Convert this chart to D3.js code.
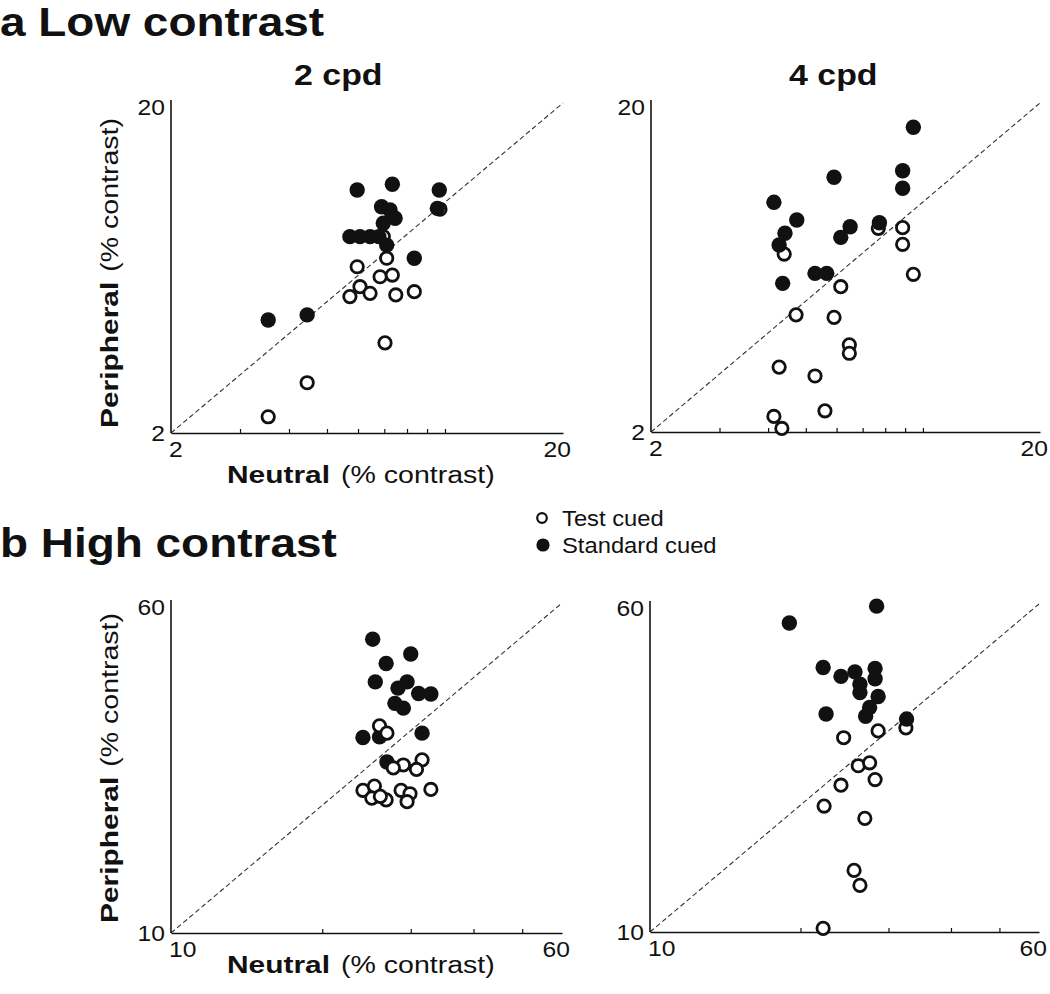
<!DOCTYPE html>
<html>
<head>
<meta charset="utf-8">
<script src="https://cdn.jsdelivr.net/npm/d3@7"></script>
<style>
body { margin: 0; background: #fff; }
svg { display: block; font-family: "Liberation Sans", Arial, sans-serif; }
</style>
</head>
<body>
<div class="container"></div>
<script>
const width = 1050;
const height = 994;

// axis domains and minor tick values
const lowDomain = [2, 20];
const highDomain = [10, 60];
const lowMinorTicks = [3, 4, 5, 6, 7, 8, 9, 10];
const highMinorTicks = [20, 30, 40, 50];

// [neutral, peripheral] thresholds, % contrast
const low2Test = [[7.10, 6.77], [5.97, 6.38], [6.83, 5.95], [7.34, 6.02], [6.07, 5.55], [5.72, 5.18], [6.44, 5.30],
    [7.49, 5.24], [8.35, 5.36], [7.03, 3.75], [4.45, 2.84], [3.54, 2.24], [9.71, 9.53], [6.96, 7.87]];
const low2Std = [[5.97, 10.9], [7.34, 11.34], [9.67, 10.9], [9.56, 9.59], [6.89, 9.70], [7.24, 9.48], [7.46, 8.95],
    [6.96, 8.64], [5.72, 7.87], [6.07, 7.87], [6.44, 7.87], [6.78, 7.87], [7.10, 7.42], [8.35, 6.77], [3.54, 4.40], [4.45, 4.56]];

const low4Test = [[8.87, 8.36], [8.87, 7.44], [9.45, 6.03], [7.68, 8.32], [4.40, 6.95], [6.15, 5.53], [4.72, 4.54],
    [5.91, 4.46], [6.47, 3.68], [6.47, 3.47], [4.27, 3.15], [5.28, 2.96], [5.60, 2.32], [4.14, 2.23], [4.34, 2.05]];
const low4Std = [[9.45, 16.87], [8.87, 12.45], [8.87, 11.01], [5.91, 11.89], [4.14, 9.98], [4.74, 8.82], [4.42, 8.04],
    [4.27, 7.40], [6.50, 8.41], [6.15, 7.81], [7.73, 8.65], [5.28, 6.07], [5.66, 6.07], [4.36, 5.66]];

const high2Test = [[26.0, 30.8], [26.9, 29.6], [31.6, 25.6], [29.0, 24.9], [27.7, 24.5], [30.8, 24.3], [24.1, 21.7],
    [25.4, 22.2], [32.9, 21.8], [28.7, 21.7], [29.9, 21.3], [25.1, 20.8], [26.8, 20.6], [29.5, 20.4], [26.1, 21.0]];
const high2Std = [[25.2, 49.3], [26.8, 43.2], [30.0, 45.5], [25.5, 39.1], [29.5, 39.1], [28.3, 37.8], [31.1, 36.7],
    [32.9, 36.6], [27.9, 34.8], [29.0, 33.9], [24.1, 28.9], [26.0, 29.0], [31.6, 29.6], [26.9, 25.3]];

const high4Test = [[32.5, 30.5], [28.6, 30.0], [24.4, 28.9], [26.1, 24.8], [27.5, 25.2], [28.2, 23.0], [24.1, 22.3],
    [22.3, 19.9], [26.9, 18.6], [25.6, 14.0], [26.3, 12.9], [22.2, 10.2]];
const high4Std = [[28.4, 59.3], [19.0, 54.1], [22.2, 42.4], [24.1, 40.4], [25.7, 41.4], [28.2, 42.2], [28.2, 39.9],
    [26.3, 38.7], [26.3, 37.0], [28.6, 36.2], [27.5, 34.1], [27.0, 32.5], [22.5, 32.9], [32.6, 32.0]];

const legendLabels = ['Test cued', 'Standard cued'];

const panels = [
    { test: low2Test, std: low2Std, domain: lowDomain, minor: lowMinorTicks, xr: [171, 563], yr: [433, 103],
      title: '2 cpd', titleX: 294, xLabelY: 483, yLabelStart: 428, openOnTop: false },
    { test: low4Test, std: low4Std, domain: lowDomain, minor: lowMinorTicks, xr: [651, 1040], yr: [432, 103],
      title: '4 cpd', titleX: 789, openOnTop: false },
    { test: high2Test, std: high2Std, domain: highDomain, minor: highMinorTicks, xr: [171, 562], yr: [933, 603],
      xLabelY: 973, yLabelStart: 923, openOnTop: true },
    { test: high4Test, std: high4Std, domain: highDomain, minor: highMinorTicks, xr: [650, 1039], yr: [932, 604],
      openOnTop: false },
];

const ink = '#111';

// widen text horizontally, the figure's fonts run wider than Arial
function stretch(sel, k) {
    sel.each(function () {
        const w = this.getComputedTextLength();
        d3.select(this).attr('textLength', w * k).attr('lengthAdjust', 'spacingAndGlyphs');
    });
    return sel;
}

const svg = d3.select('.container')
    .append('svg')
    .attr('width', width)
    .attr('height', height);

// section titles
const sections = [['a Low contrast', 36], ['b High contrast', 557]];
sections.forEach(([t, y]) => {
    stretch(svg.append('text')
        .attr('x', 0).attr('y', y)
        .attr('font-size', 41).attr('font-weight', 'bold')
        .attr('fill', ink)
        .text(t), 1.12);
});

function drawPanel(p) {
    const x = d3.scaleLog().domain(p.domain).range(p.xr);
    const y = d3.scaleLog().domain(p.domain).range(p.yr);
    const g = svg.append('g');

    // unity line
    g.append('line')
        .attr('x1', x(p.domain[0])).attr('y1', y(p.domain[0]))
        .attr('x2', x(p.domain[1])).attr('y2', y(p.domain[1]))
        .attr('stroke', '#333').attr('stroke-width', 1.1)
        .attr('stroke-dasharray', '5,3');

    const xAxis = g.append('g')
        .attr('transform', `translate(0, ${p.yr[0]})`)
        .call(d3.axisBottom(x).tickValues(p.minor).tickSizeInner(-4).tickSizeOuter(0).tickFormat(''));
    const yAxis = g.append('g')
        .attr('transform', `translate(${p.xr[0]}, 0)`)
        .call(d3.axisLeft(y).tickValues([]).tickSizeOuter(0));
    [xAxis, yAxis].forEach(a => {
        a.select('.domain').attr('stroke', ink).attr('stroke-width', 1.6);
        a.selectAll('.tick line').attr('stroke', ink).attr('stroke-width', 1.2);
    });
    // y axis runs slightly past the top value
    yAxis.select('.domain').attr('d', `M0,${p.yr[0]}V${p.yr[1] - 3}`);

    // end labels
    const lo = p.domain[0], hi = p.domain[1];
    stretch(g.append('text').attr('x', x(lo) - 2).attr('y', p.yr[0] + 24)
        .attr('font-size', 22).attr('fill', ink).text(lo), 1.12);
    stretch(g.append('text').attr('x', x(hi) + 8).attr('y', p.yr[0] + 24).attr('text-anchor', 'end')
        .attr('font-size', 22).attr('fill', ink).text(hi), 1.12);
    stretch(g.append('text').attr('x', p.xr[0] - 6).attr('y', y(lo)).attr('dy', '0.36em').attr('text-anchor', 'end')
        .attr('font-size', 22).attr('fill', ink).text(lo), 1.12);
    stretch(g.append('text').attr('x', p.xr[0] - 6).attr('y', y(hi) + 4).attr('dy', '0.36em').attr('text-anchor', 'end')
        .attr('font-size', 22).attr('fill', ink).text(hi), 1.12);

    if (p.title) {
        stretch(svg.append('text').attr('x', p.titleX).attr('y', 85)
            .attr('font-size', 30).attr('font-weight', 'bold').attr('fill', ink).text(p.title), 1.13);
    }

    if (p.xLabelY) {
        const b = stretch(g.append('text').attr('x', 227).attr('y', p.xLabelY)
            .attr('font-size', 23).attr('font-weight', 'bold').attr('fill', ink).text('Neutral'), 1.3);
        const w = +b.attr('textLength');
        stretch(g.append('text').attr('x', 227 + w + 11).attr('y', p.xLabelY)
            .attr('font-size', 23).attr('fill', ink).text('(% contrast)'), 1.24);
    }
    if (p.yLabelStart) {
        const b = stretch(g.append('text').attr('transform', `translate(118, ${p.yLabelStart}) rotate(-90)`)
            .attr('font-size', 23).attr('font-weight', 'bold').attr('fill', ink).text('Peripheral'), 1.3);
        const w = +b.attr('textLength');
        stretch(g.append('text').attr('transform', `translate(118, ${p.yLabelStart - w - 10}) rotate(-90)`)
            .attr('font-size', 23).attr('fill', ink).text('(% contrast)'), 1.24);
    }

    const drawOpen = () => g.append('g').selectAll('circle')
        .data(p.test).enter().append('circle')
        .attr('cx', d => x(d[0])).attr('cy', d => y(d[1]))
        .attr('r', 6.2).attr('fill', '#fff').attr('stroke', ink).attr('stroke-width', 2.8);
    const drawFilled = () => g.append('g').selectAll('circle')
        .data(p.std).enter().append('circle')
        .attr('cx', d => x(d[0])).attr('cy', d => y(d[1]))
        .attr('r', 7.7).attr('fill', ink);

    if (p.openOnTop) { drawFilled(); drawOpen(); } else { drawOpen(); drawFilled(); }
}

panels.forEach(drawPanel);

// legend
const legend = svg.append('g');
legend.append('circle').attr('cx', 542).attr('cy', 518).attr('r', 4.8)
    .attr('fill', '#fff').attr('stroke', ink).attr('stroke-width', 2.2);
legend.append('circle').attr('cx', 543).attr('cy', 545).attr('r', 6.6).attr('fill', ink);
legendLabels.forEach((t, i) => {
    stretch(legend.append('text').attr('x', 562).attr('y', 526 + i * 26.5)
        .attr('font-size', 22).attr('fill', ink).text(t), 1.08);
});
</script>
</body>
</html>
